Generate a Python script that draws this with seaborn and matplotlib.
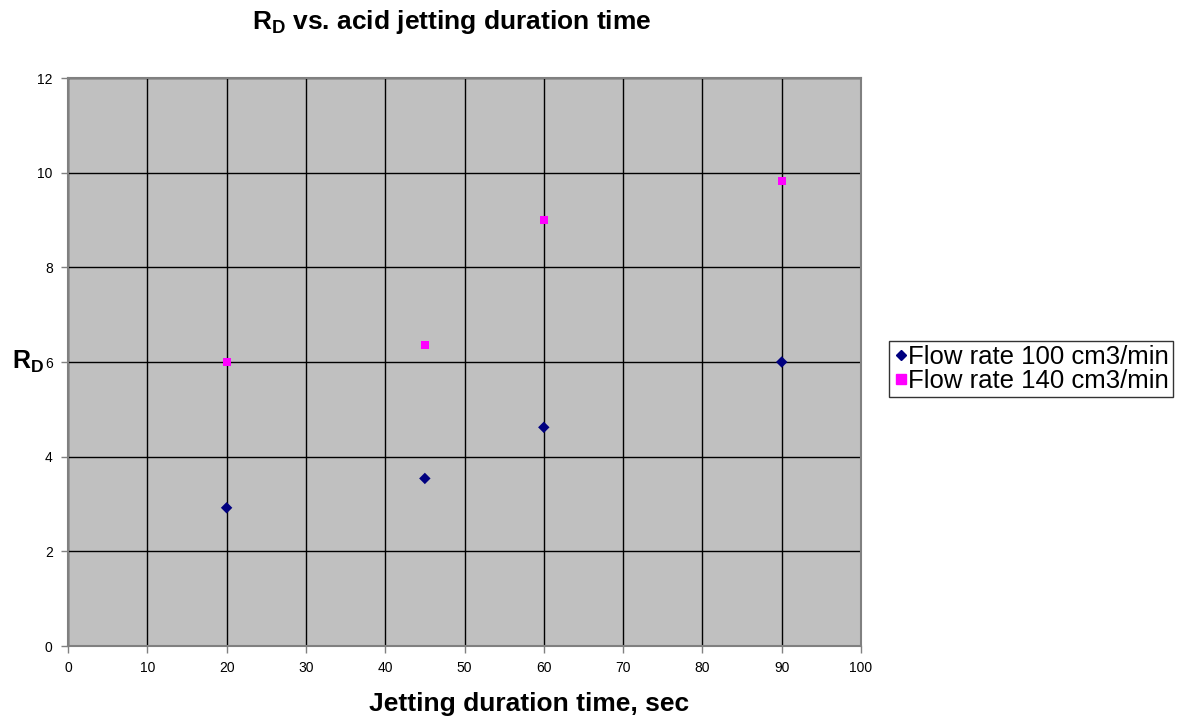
import matplotlib
matplotlib.use("Agg")
import matplotlib.pyplot as plt
from matplotlib.lines import Line2D
import seaborn as sns
import pandas as pd

# Measured data
durations = [20, 45, 60, 90]
rd_flow_100 = [2.92, 3.54, 4.62, 6.0]
rd_flow_140 = [6.0, 6.35, 9.0, 9.83]
series_names = ["Flow rate 100 cm3/min", "Flow rate 140 cm3/min"]
x_ticks = list(range(0, 101, 10))
y_ticks = list(range(0, 13, 2))

df = pd.DataFrame({
    "time": durations * 2,
    "rd": rd_flow_100 + rd_flow_140,
    "series": [series_names[0]] * len(durations) + [series_names[1]] * len(durations),
})

sns.set_theme(style="white")
plt.rcParams["font.family"] = ["Liberation Sans", "DejaVu Sans"]
plt.rcParams["mathtext.fontset"] = "custom"
plt.rcParams["mathtext.rm"] = "Liberation Sans"
plt.rcParams["mathtext.bf"] = "Liberation Sans:bold"
plt.rcParams["text.color"] = "black"
plt.rcParams["axes.labelcolor"] = "black"
plt.rcParams["xtick.color"] = "black"
plt.rcParams["ytick.color"] = "black"

fig = plt.figure(figsize=(11.91, 7.19), dpi=100)
ax = fig.add_axes([68 / 1191, 1 - 646 / 719, (861 - 68) / 1191, (646 - 78) / 719])
ax.set_facecolor("#C0C0C0")

sns.scatterplot(
    data=df, x="time", y="rd", hue="series", style="series",
    palette={series_names[0]: "#000080", series_names[1]: "#FF00FF"},
    markers={series_names[0]: "D", series_names[1]: "s"},
    s=40, linewidth=0, ax=ax, zorder=3, legend=False,
)
# diamonds a little smaller than the squares
for coll, size in zip(ax.collections, [34, 64]):
    coll.set_sizes([size])

ax.set_xlim(0, 100)
ax.set_ylim(0, 12)
ax.set_xticks(x_ticks)
ax.set_yticks(y_ticks)
ax.grid(True, color="black", linewidth=1.0)
ax.set_axisbelow(True)
for sp in ax.spines.values():
    sp.set_color("#808080")
    sp.set_linewidth(1.5)
ax.tick_params(axis="both", which="major", direction="out", length=5,
               width=1, color="#808080", labelcolor="black", labelsize=10,
               pad=6, bottom=True, left=True)

ax.set_xlabel("Jetting duration time, sec", fontsize=19, fontweight="bold")
ax.xaxis.set_label_coords((529 - 68) / 793, -(704 - 646) / 568)
ax.xaxis.label.set_va("center")
ax.set_ylabel(r"$\mathbf{R_D}$", fontsize=18, rotation=0, va="center", ha="center")
ax.yaxis.set_label_coords((28 - 68) / 793, (646 - 362) / 568)

fig.text(452 / 1191, 1 - 22 / 719, r"$\mathbf{R_D}$ vs. acid jetting duration time",
         fontsize=19, fontweight="bold", ha="center", va="center")

handles = [
    Line2D([], [], linestyle="none", marker="D", markersize=5, color="#000080"),
    Line2D([], [], linestyle="none", marker="s", markersize=7, color="#FF00FF"),
]
leg = fig.legend(handles, series_names, loc="center left",
                 bbox_to_anchor=(889 / 1191, 1 - 369 / 719), fontsize=18.5,
                 frameon=True, fancybox=False, borderpad=0.15,
                 handletextpad=0.0, handlelength=0.6, labelspacing=0.0,
                 borderaxespad=0)
leg.get_frame().set_edgecolor("black")
leg.get_frame().set_linewidth(1.0)

fig.savefig("out.png", dpi=100, facecolor="white")
